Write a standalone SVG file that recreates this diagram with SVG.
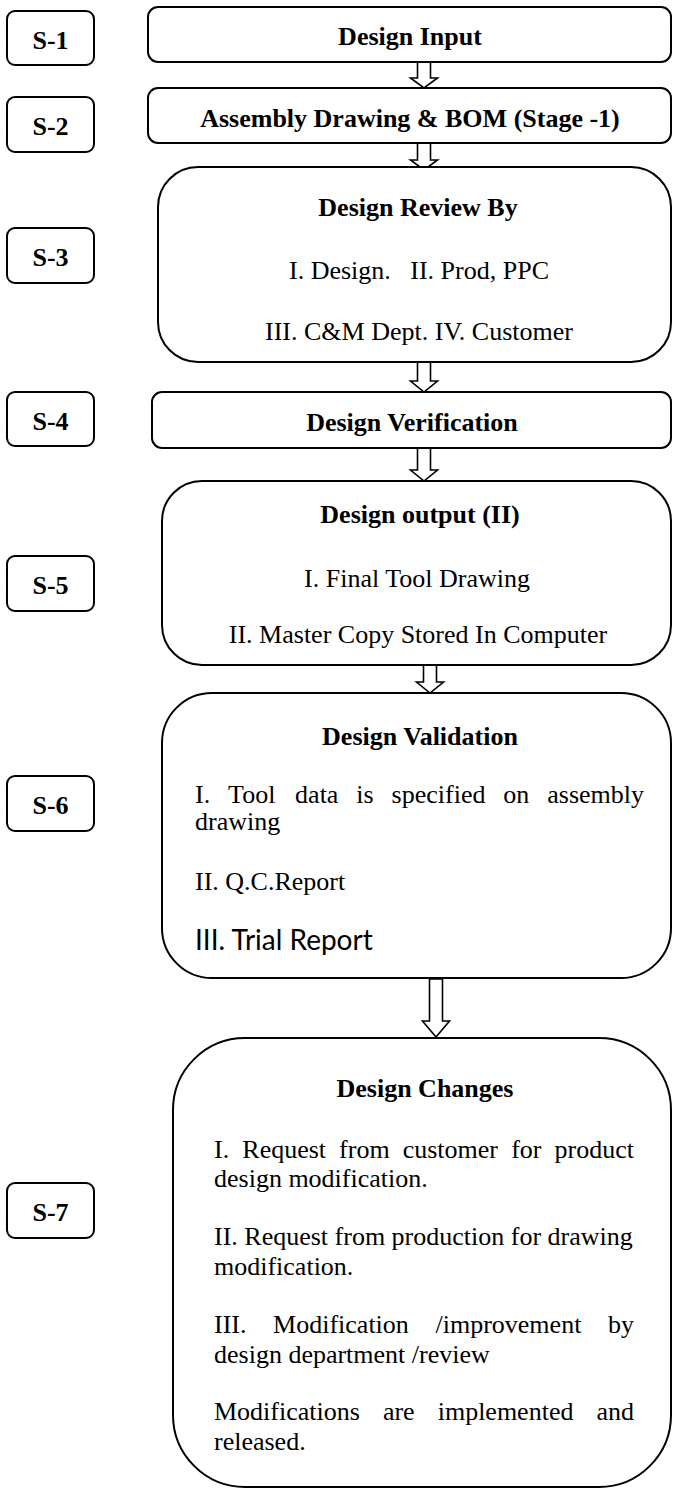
<svg xmlns="http://www.w3.org/2000/svg" width="673" height="1488" viewBox="0 0 673 1488">
<style>
.box{fill:#fff;stroke:#000;stroke-width:2}
.sbox{fill:#fff;stroke:#000;stroke-width:2}
.arr{fill:#fff;stroke:#000;stroke-width:1.6;stroke-linejoin:miter}
.t{font-family:"Liberation Serif","Times New Roman",serif;font-size:26px;fill:#000}
.b{font-weight:bold}
.c{text-anchor:middle}
.s{font-family:Lato,"Open Sans",sans-serif;font-size:28px;fill:#000}
</style>
<rect width="673" height="1488" fill="#fff"/>

<g id="labels">
<g id="S-1"><rect class="sbox" x="7" y="11" width="87" height="54" rx="8"/><text class="t b c" x="50.5" y="48.5">S-1</text></g>
<g id="S-2"><rect class="sbox" x="7" y="97" width="87" height="55" rx="8"/><text class="t b c" x="50.5" y="135">S-2</text></g>
<g id="S-3"><rect class="sbox" x="7" y="228" width="87" height="55" rx="8"/><text class="t b c" x="50.5" y="266">S-3</text></g>
<g id="S-4"><rect class="sbox" x="7" y="392" width="87" height="54" rx="8"/><text class="t b c" x="50.5" y="429.5">S-4</text></g>
<g id="S-5"><rect class="sbox" x="7" y="556" width="87" height="55" rx="8"/><text class="t b c" x="50.5" y="594">S-5</text></g>
<g id="S-6"><rect class="sbox" x="7" y="776" width="87" height="55" rx="8"/><text class="t b c" x="50.5" y="814">S-6</text></g>
<g id="S-7"><rect class="sbox" x="7" y="1183" width="87" height="55" rx="8"/><text class="t b c" x="50.5" y="1221">S-7</text></g>
</g>

<g id="connectors">
<polygon class="arr" points="417.5,62 430.5,62 430.5,78 437.5,78 424,88 410.5,78 417.5,78"/>
<polygon class="arr" points="417.5,143 430.5,143 430.5,160 437.5,160 424,170 410.5,160 417.5,160"/>
<polygon class="arr" points="417.5,362 430.5,362 430.5,381 437.5,381 424,392 410.5,381 417.5,381"/>
<polygon class="arr" points="417.5,448 430.5,448 430.5,470 437.5,470 424,481 410.5,470 417.5,470"/>
<polygon class="arr" points="423.5,665 436.5,665 436.5,682 443.5,682 430,693 416.5,682 423.5,682"/>
<polygon class="arr" points="429.5,979 442.5,979 442.5,1021 449.5,1021 436,1037 422.5,1021 429.5,1021"/>
</g>

<g id="design-input"><rect class="box" x="148" y="7" width="523" height="55" rx="10"/><text class="t b c" x="410" y="45">Design Input</text></g>

<g id="assembly"><rect class="box" x="148" y="88" width="523" height="55" rx="10"/><text class="t b c" x="410" y="127">Assembly Drawing &amp; BOM (Stage -1)</text></g>

<g id="design-review"><rect class="box" x="158" y="167" width="513" height="195" rx="40"/>
<text class="t b c" x="418" y="216">Design Review By</text>
<text class="t c" x="419" y="279" style="white-space:pre">I. Design.   II. Prod, PPC</text>
<text class="t c" x="419" y="340">III. C&amp;M Dept. IV. Customer</text>
</g>

<g id="design-verification"><rect class="box" x="152" y="392" width="519" height="56" rx="10"/><text class="t b c" x="412" y="431">Design Verification</text></g>

<g id="design-output"><rect class="box" x="162" y="481" width="509" height="184" rx="40"/>
<text class="t b c" x="420" y="523">Design output (II)</text>
<text class="t c" x="417" y="587">I. Final Tool Drawing</text>
<text class="t c" x="418" y="643">II. Master Copy Stored In Computer</text>
</g>

<g id="design-validation"><rect class="box" x="162" y="693" width="509" height="285" rx="50"/>
<text class="t b c" x="420" y="745">Design Validation</text>
<text class="t" y="803"><tspan x="195">I.</tspan><tspan x="228.1">Tool</tspan><tspan x="295.1">data</tspan><tspan x="356.3">is</tspan><tspan x="391.6">specified</tspan><tspan x="503.3">on</tspan><tspan x="547.3">assembly</tspan></text>
<text class="t" x="195" y="830">drawing</text>
<text class="t" x="195" y="890">II. Q.C.Report</text>
<text class="s" x="195" y="950">III. Trial Report</text>
</g>

<g id="design-changes"><rect class="box" x="173" y="1038" width="498" height="449" rx="72"/>
<text class="t b c" x="425" y="1097">Design Changes</text>
<text class="t" y="1158"><tspan x="214">I.</tspan><tspan x="242.3">Request</tspan><tspan x="339.1">from</tspan><tspan x="402.7">customer</tspan><tspan x="511.2">for</tspan><tspan x="554.6">product</tspan></text>
<text class="t" x="214" y="1187">design modification.</text>
<text class="t" x="214" y="1245">II. Request from production for drawing</text>
<text class="t" x="214" y="1275">modification.</text>
<text class="t" y="1333"><tspan x="214">III.</tspan><tspan x="273.1">Modification</tspan><tspan x="435.5">/improvement</tspan><tspan x="608">by</tspan></text>
<text class="t" x="214" y="1363">design department /review</text>
<text class="t" y="1420"><tspan x="214">Modifications</tspan><tspan x="382.9">are</tspan><tspan x="437.7">implemented</tspan><tspan x="596.5">and</tspan></text>
<text class="t" x="214" y="1450">released.</text>
</g>
</svg>
